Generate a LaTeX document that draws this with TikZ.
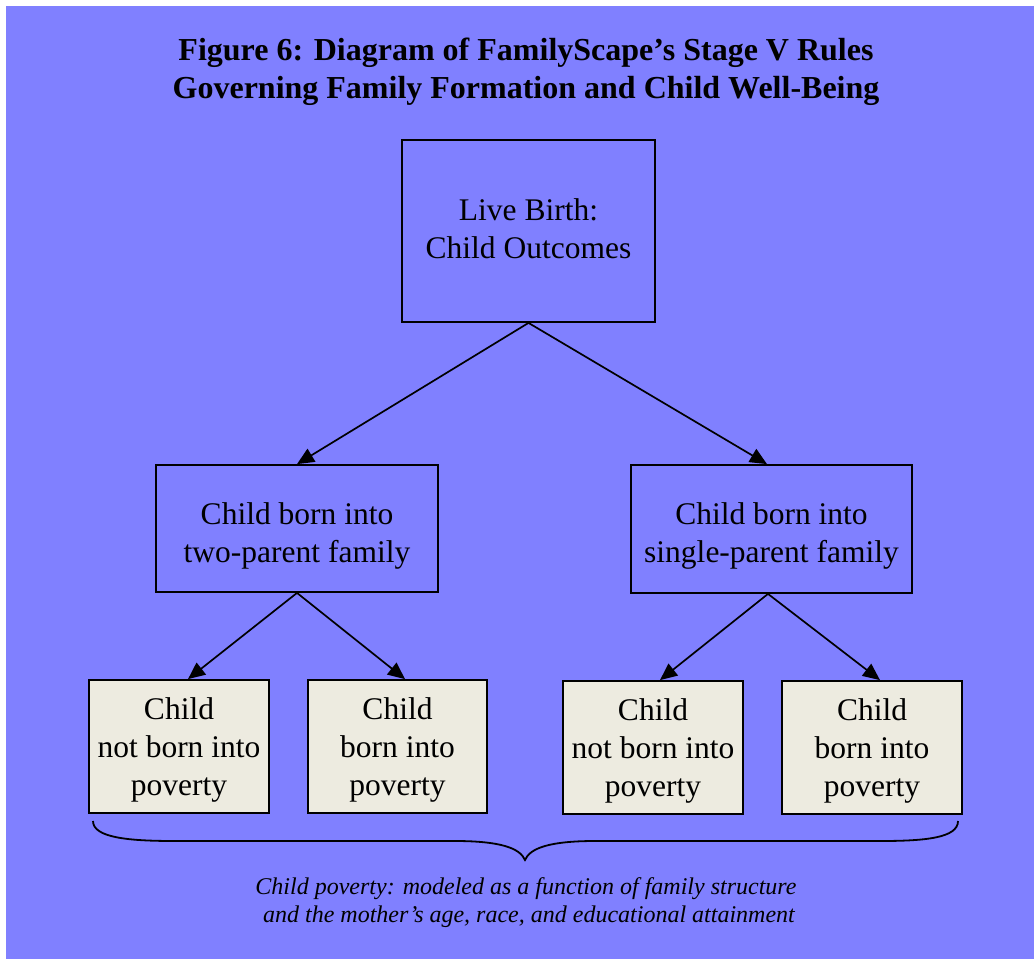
\documentclass[tikz,border=0pt]{standalone}
\usepackage{fontspec}
\setmainfont{Liberation Serif}
\usetikzlibrary{arrows.meta,calc}
\definecolor{bgblue}{HTML}{8080FF}
\definecolor{leafbeige}{HTML}{EDEBE0}
\newcommand{\boxfont}{\fontsize{31.5}{38}\selectfont}
\newcommand{\titlefont}{\fontsize{32}{38}\selectfont\bfseries}
\newcommand{\capfont}{\fontsize{24}{28}\selectfont\itshape}
\begin{document}
\begin{tikzpicture}[x=1pt,y=-1pt,
  box/.style={draw=black, line width=1.8pt, fill=bgblue, inner sep=0pt},
  leaf/.style={box, fill=leafbeige},
  txt/.style={align=center, font=\boxfont, inner sep=0pt},
  arr/.style={line width=1.7pt, -{Triangle[length=17pt,width=15pt]}},
  bracepath/.style={line width=1.8pt}]
\useasboundingbox (0,0) rectangle (1034,959);
\fill[bgblue] (6,6) rectangle (1034,959);

\node[font=\titlefont, align=center] (title) at (526,72) {Figure 6: Diagram of FamilyScape’s Stage V Rules\\Governing Family Formation and Child Well-Being};

\node[box, minimum width=253pt, minimum height=182pt] (top) at (528.5,231) {};
\node[box, minimum width=282pt, minimum height=127pt] (midL) at (297,528.5) {};
\node[box, minimum width=281pt, minimum height=128pt] (midR) at (771.5,529) {};
\node[leaf, minimum width=180pt, minimum height=133pt] (b1) at (179,746.5) {};
\node[leaf, minimum width=179pt, minimum height=133pt] (b2) at (397.5,746.5) {};
\node[leaf, minimum width=180pt, minimum height=133pt] (b3) at (653,747.5) {};
\node[leaf, minimum width=180pt, minimum height=133pt] (b4) at (872,747.5) {};

\node[txt] (topT) at ($(top.center)+(0,-2.5)$) {Live Birth:\\Child Outcomes};
\node[txt] (midLT) at ($(midL.center)+(0,7)$) {Child born into\\two-parent family};
\node[txt] (midRT) at ($(midR.center)+(0,7)$) {Child born into\\single-parent family};
\node[txt] (b1T) at ($(b1.center)+(0,3.5)$) {Child\\not born into\\poverty};
\node[txt] (b2T) at ($(b2.center)+(0,3.5)$) {Child\\born into\\poverty};
\node[txt] (b3T) at ($(b3.center)+(0,3.5)$) {Child\\not born into\\poverty};
\node[txt] (b4T) at ($(b4.center)+(0,3.5)$) {Child\\born into\\poverty};

\coordinate (midRs) at ($(midR.south)+(-3.5,0)$);
\coordinate (midRn) at ($(midR.north)+(-4.5,0)$);

\draw[arr] (top.south) -- (midL.north);
\draw[arr] (top.south) -- (midRn);
\draw[arr] (midL.south) -- ($(b1.north)+(9,0)$);
\draw[arr] (midL.south) -- ($(b2.north)+(7.5,0)$);
\draw[arr] (midRs) -- ($(b3.north)+(7,0)$);
\draw[arr] (midRs) -- ($(b4.north)+(8,0)$);

\draw[bracepath] (93,821) .. controls (93,838) and (130,841) .. (175,841)
  -- (455,841) .. controls (500,841) and (520,848) .. (525,860)
  .. controls (530,848) and (550,841) .. (595,841)
  -- (880,841) .. controls (925,841) and (958,838) .. (958,821);

\node[font=\capfont, align=center] (cap) at (526,903) {Child poverty: modeled as a function of family structure\\ \hspace{6pt}and the mother’s age, race, and educational attainment};
\end{tikzpicture}
\end{document}
